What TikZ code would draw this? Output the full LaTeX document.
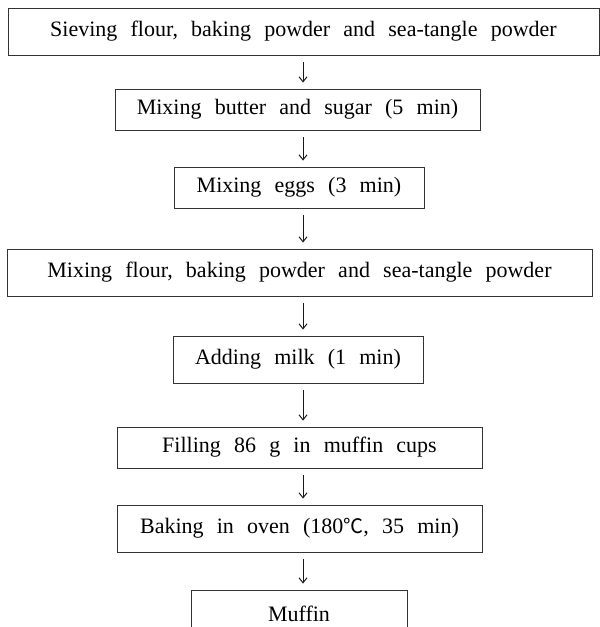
\documentclass[tikz,border=0pt]{standalone}
\usepackage{fontspec}
\setmainfont{Liberation Serif}
\newfontfamily\cjkfont{Noto Sans CJK KR}
\usetikzlibrary{arrows.meta}
\begin{document}
\begin{tikzpicture}[x=1pt,y=-1pt,
  stepbox/.style={draw=black!80, line width=0.8pt, inner sep=0pt, text=black,
    font={\fontsize{22}{26}\selectfont\spaceskip=0.6em\relax}},
  flow/.style={line width=1pt, draw=black!90,
    -{Straight Barb[length=5pt,width=8pt]}, shorten <=7pt, shorten >=6pt}]
\useasboundingbox (0,0) rectangle (600,627);
\clip (0,0) rectangle (600,627);
\coordinate (ax) at (303,0);
% process steps
\node[stepbox, minimum width=591pt, minimum height=47pt] (b1) at (303.5,31.5)
  {Sieving flour, baking powder and sea-tangle powder};
\node[stepbox, minimum width=365pt, minimum height=41pt] (b2) at (297.5,109.5)
  {Mixing butter and sugar (5 min)};
\node[stepbox, minimum width=250pt, minimum height=41pt] (b3) at (299,187.5)
  {Mixing eggs (3 min)};
\node[stepbox, minimum width=585pt, minimum height=47pt] (b4) at (299.5,272.5)
  {Mixing flour, baking powder and sea-tangle powder};
\node[stepbox, minimum width=250pt, minimum height=47pt] (b5) at (298,359.5)
  {Adding milk (1 min)};
\node[stepbox, minimum width=365pt, minimum height=41pt] (b6) at (299.5,447.5)
  {Filling 86 g in muffin cups};
\node[stepbox, minimum width=365pt, minimum height=47pt] (b7) at (299.5,528.5)
  {Baking in oven (180{\cjkfont\fontsize{20}{24}\selectfont ℃}, 35 min)};
\node[stepbox, minimum width=216pt, minimum height=47pt] (b8) at (299,613.5)
  {Muffin};
% arrows between steps
\foreach \a/\b in {b1/b2,b2/b3,b3/b4,b4/b5,b5/b6,b6/b7,b7/b8}
  \draw[flow] (\a.south -| ax) -- (\b.north -| ax);
\end{tikzpicture}
\end{document}
